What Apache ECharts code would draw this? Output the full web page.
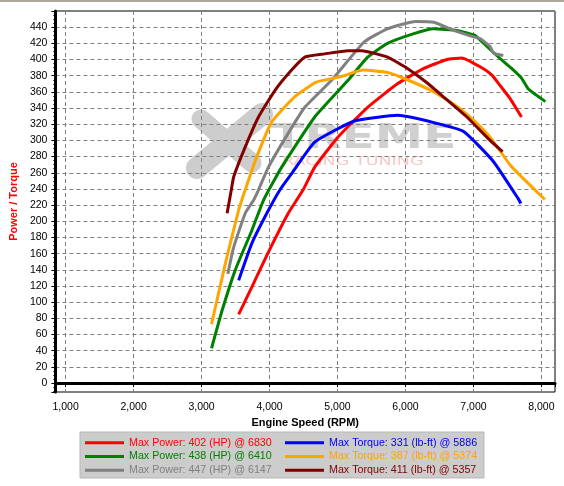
<!DOCTYPE html>
<html>
<head>
<meta charset="utf-8">
<script src="https://cdn.jsdelivr.net/npm/echarts@6/dist/echarts.min.js"></script>
<style>
  html, body { margin: 0; padding: 0; background: #fff; }
  #chart { width: 564px; height: 486px; }
</style>
</head>
<body>
<div id="chart"></div>
<script>
// series names (legend text)
const seriesNames = [
  'Max Power: 402 (HP) @ 6830',
  'Max Power: 438 (HP) @ 6410',
  'Max Power: 447 (HP) @ 6147',
  'Max Torque: 331 (lb-ft) @ 5886',
  'Max Torque: 387 (lb-ft) @ 5374',
  'Max Torque: 411 (lb-ft) @ 5357'
]
const seriesColors = ['#ff0000', '#008000', '#808080', '#0000ff', '#ffa500', '#800000']

// [rpm, value]
const redPower = [[3546, 85], [3741, 119], [3984, 162], [4276, 210], [4495, 239], [4665, 267], [5006, 304], [5444, 341], [5882, 370], [6271, 389], [6612, 400], [6830, 402], [7099, 391], [7269, 381], [7391, 368], [7537, 352], [7707, 329]]
const greenPower = [[3147, 43], [3303, 90], [3497, 140], [3741, 189], [3911, 226], [4179, 267], [4665, 329], [5152, 374], [5444, 403], [5736, 420], [6125, 432], [6410, 438], [6758, 436], [7025, 430], [7100, 424], [7342, 405], [7561, 389], [7707, 377], [7804, 364], [7926, 356], [8058, 348]]
const greyPower = [[3386, 135], [3473, 168], [3643, 210], [3765, 226], [3838, 239], [3984, 267], [4276, 309], [4519, 341], [4909, 374], [5395, 422], [5736, 438], [6147, 447], [6417, 446], [6709, 436], [7001, 428], [7097, 426], [7245, 416], [7293, 408], [7439, 405]]
const blueTorque = [[3546, 127], [3741, 173], [3935, 206], [4154, 239], [4325, 259], [4665, 298], [5249, 324], [5886, 331], [6417, 322], [6855, 311], [7293, 274], [7658, 228], [7697, 222]]
const orangeTorque = [[3147, 73], [3351, 148], [3546, 214], [3643, 239], [3813, 280], [4033, 323], [4373, 354], [4689, 372], [5055, 379], [5374, 387], [5736, 384], [6028, 375], [6417, 360], [6758, 342], [7001, 325], [7245, 304], [7537, 270], [7780, 249], [8050, 227]]
const maroonTorque = [[3376, 210], [3438, 239], [3473, 255], [3643, 292], [3838, 329], [4081, 362], [4325, 387], [4519, 403], [4811, 407], [5152, 411], [5357, 411], [5736, 403], [6028, 389], [6320, 371], [6612, 350], [6904, 329], [7245, 300], [7430, 286]]

const seriesData = [redPower, greenPower, greyPower, blueTorque, orangeTorque, maroonTorque]

const chart = echarts.init(document.getElementById('chart'), null, { renderer: 'canvas' })

const font = 'Liberation Sans, Arial, sans-serif'
const gridLine = { show: true, lineStyle: { color: '#808080', type: [4, 3], width: 1 } }

const legendBase = {
  orient: 'vertical',
  top: 436,
  itemWidth: 39,
  itemHeight: 3,
  itemGap: 0,
  icon: 'rect',
  selectedMode: false,
  padding: 0,
  textStyle: { fontFamily: font, fontSize: 10.7, lineHeight: 13.7 }
}

const option = {
  animation: false,
  backgroundColor: '#fff',
  grid: { left: 52, right: 9, top: 11, bottom: 94, show: true, borderColor: '#000', borderWidth: 1 },
  xAxis: {
    type: 'value',
    min: 850,
    max: 8200,
    splitNumber: 7,
    name: 'Engine Speed (RPM)',
    nameLocation: 'middle',
    nameGap: 24,
    nameTextStyle: { fontFamily: font, fontSize: 11, fontWeight: 'bold', color: '#000' },
    axisLine: { lineStyle: { color: '#000', width: 3 } },
    axisTick: { length: 4, lineStyle: { color: '#000' } },
    minorTick: { show: true, splitNumber: 4, length: 2, lineStyle: { color: '#000' } },
    axisLabel: {
      margin: 10,
      fontFamily: font,
      fontSize: 10.5,
      color: '#000',
      formatter: v => (v % 1000 === 0 ? v.toLocaleString('en-US') : '')
    },
    splitLine: gridLine
  },
  yAxis: {
    type: 'value',
    min: -11,
    max: 460,
    splitNumber: 23,
    name: 'Power / Torque',
    nameLocation: 'middle',
    nameGap: 31,
    nameTextStyle: { fontFamily: font, fontSize: 11, fontWeight: 'bold', color: '#ff0000' },
    axisLine: { show: true, lineStyle: { color: '#000', width: 3 } },
    axisTick: { show: true, length: 4, lineStyle: { color: '#000' } },
    minorTick: { show: true, splitNumber: 4, length: 2, lineStyle: { color: '#000' } },
    axisLabel: {
      margin: 8,
      fontFamily: font,
      fontSize: 10.5,
      color: '#000',
      formatter: v => (v % 20 === 0 && v <= 440 ? String(v) : '')
    },
    splitLine: gridLine
  },
  legend: [
    Object.assign({}, legendBase, { left: 85, data: seriesNames.slice(0, 3) }),
    Object.assign({}, legendBase, { left: 285, data: seriesNames.slice(3) })
  ],
  graphic: [
    { type: 'rect', z: -20, shape: { x: 0, y: 0, width: 564, height: 2 }, style: { fill: '#aaa89c' } },
    { type: 'rect', z: -20, shape: { x: 80, y: 432, width: 404, height: 46 }, style: { fill: '#cccccc', stroke: '#b8b8b8', lineWidth: 1 } },
    // watermark
    { type: 'line', z: -10, shape: { x1: 201, y1: 119, x2: 252, y2: 163 }, style: { stroke: '#cdcdcd', lineWidth: 19, lineCap: 'round' } },
    { type: 'line', z: -10, shape: { x1: 262, y1: 114, x2: 197, y2: 168 }, style: { stroke: '#cdcdcd', lineWidth: 22, lineCap: 'round' } },
    { type: 'text', z: -10, x: 271, y: 122, scaleX: 1.43, style: { text: 'TREME', font: 'bold 34px DejaVu Sans', fill: '#d0d0d0' } },
    { type: 'text', z: -10, x: 282, y: 155, scaleX: 1.35, style: { text: 'RACING TUNING', font: '13px DejaVu Sans', fill: '#f6caca' } }
  ],
  series: seriesData.map((d, i) => ({
    name: seriesNames[i],
    type: 'line',
    data: d,
    smooth: 0.15,
    showSymbol: false,
    color: seriesColors[i],
    lineStyle: { width: 3, color: seriesColors[i] },
    z: 3
  }))
}

// legend text in series colour
option.legend.forEach(lg => {
  lg.formatter = name => '{c' + seriesNames.indexOf(name) + '|' + name + '}'
  lg.textStyle.rich = {}
  seriesColors.forEach((c, i) => { lg.textStyle.rich['c' + i] = { color: c, fontFamily: font, fontSize: 10.7 } })
})

chart.setOption(option)
</script>
</body>
</html>
